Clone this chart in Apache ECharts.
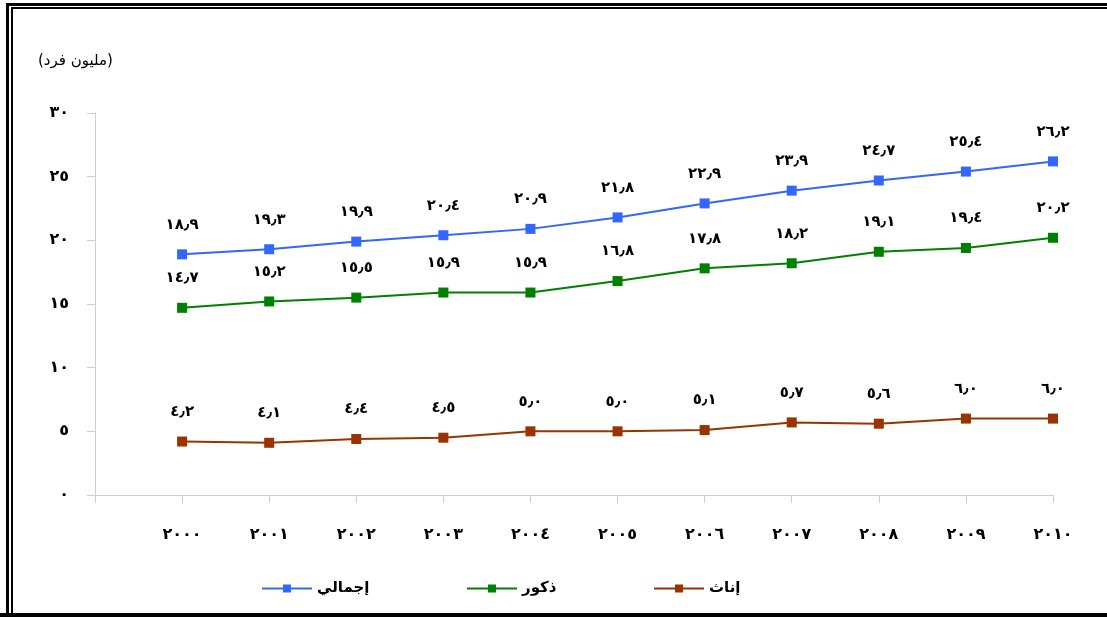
<!DOCTYPE html>
<html>
<head>
<meta charset="utf-8">
<script src="https://cdn.jsdelivr.net/npm/echarts@6/dist/echarts.min.js"></script>
<style>
html,body{margin:0;padding:0;background:#fff;overflow:hidden;}
#wrap{position:relative;width:1107px;height:617px;overflow:hidden;}
#chart{position:absolute;left:0;top:0;width:1107px;height:617px;}
.b{position:absolute;background:#000;}
</style>
</head>
<body>
<div id="wrap">
<div id="chart"></div>
<div class="b" style="left:6px;top:3px;width:3px;height:614px;"></div>
<div class="b" style="left:6px;top:3px;width:1101px;height:3px;"></div>
<div class="b" style="left:11px;top:7px;width:2px;height:610px;"></div>
<div class="b" style="left:11px;top:7px;width:1096px;height:2px;"></div>
<div class="b" style="left:0;top:613px;width:1107px;height:4px;"></div>
</div>
<script>
// Data
const years = [2000, 2001, 2002, 2003, 2004, 2005, 2006, 2007, 2008, 2009, 2010];
const seriesNames = ['إجمالي', 'ذكور', 'إناث'];
const totalValues = [18.9, 19.3, 19.9, 20.4, 20.9, 21.8, 22.9, 23.9, 24.7, 25.4, 26.2];
const maleValues = [14.7, 15.2, 15.5, 15.9, 15.9, 16.8, 17.8, 18.2, 19.1, 19.4, 20.2];
const femaleValues = [4.2, 4.1, 4.4, 4.5, 5.0, 5.0, 5.1, 5.7, 5.6, 6.0, 6.0];
const yTicks = [0, 5, 10, 15, 20, 25, 30];
const unitLabel = '(مليون فرد)';

const digits = ['٠','١','٢','٣','٤','٥','٦','٧','٨','٩'];
function ar(s) {
  return String(s).replace(/[0-9]/g, d => digits[+d]).replace('.', '٫');
}

const colors = ['#3366FF', '#008000', '#993300'];
const FONT = '"DejaVu Sans", "Noto Sans", sans-serif';

function mk(name, vals, color) {
  return {
    name: name,
    type: 'line',
    data: years.map((y, i) => [y, vals[i]]),
    symbol: 'rect',
    symbolSize: 10,
    lineStyle: { color: color, width: 2 },
    itemStyle: { color: color },
    label: {
      show: true,
      position: 'top',
      distance: 17,
      color: '#000',
      fontWeight: 'bold',
      fontSize: 15,
      fontFamily: FONT,
      formatter: p => ar(p.value[1].toFixed(1))
    },
    animation: false
  };
}

const chart = echarts.init(document.getElementById('chart'));
chart.setOption({
  backgroundColor: '#fff',
  animation: false,
  grid: { left: 95, right: 54, top: 113, bottom: 122, containLabel: false },
  xAxis: {
    type: 'value',
    min: years[0] - 1,
    max: years[years.length - 1],
    interval: 1,
    splitLine: { show: false },
    axisLine: { lineStyle: { color: '#d0d0d0', width: 1 } },
    axisTick: { show: true, length: 8, lineStyle: { color: '#d0d0d0' } },
    axisLabel: {
      margin: 32,
      color: '#000',
      fontWeight: 'bold',
      fontSize: 16,
      fontFamily: FONT,
      formatter: v => (years.indexOf(v) >= 0 ? ar(v) : '')
    }
  },
  yAxis: {
    type: 'value',
    min: yTicks[0],
    max: yTicks[yTicks.length - 1],
    interval: 5,
    splitLine: { show: false },
    axisLine: { show: true, lineStyle: { color: '#d0d0d0', width: 1 } },
    axisTick: { show: true, length: 8, lineStyle: { color: '#d0d0d0' } },
    axisLabel: {
      margin: 26,
      color: '#000',
      fontWeight: 'bold',
      fontSize: 16,
      fontFamily: FONT,
      formatter: v => ar(v)
    }
  },
  legend: seriesNames.map((n, i) => ({
    data: [n],
    left: [256, 461, 648][i],
    top: 576,
    itemWidth: 50,
    itemHeight: 10,
    itemGap: 6,
    textStyle: { color: '#000', fontWeight: 'bold', fontSize: 15, fontFamily: FONT },
    selectedMode: false
  })),
  graphic: [
    { type: 'text', left: 38, top: 54, style: { text: unitLabel, fill: '#000', font: '15px ' + FONT } }
  ],
  series: [
    mk(seriesNames[0], totalValues, colors[0]),
    mk(seriesNames[1], maleValues, colors[1]),
    mk(seriesNames[2], femaleValues, colors[2])
  ]
});
</script>
</body>
</html>
